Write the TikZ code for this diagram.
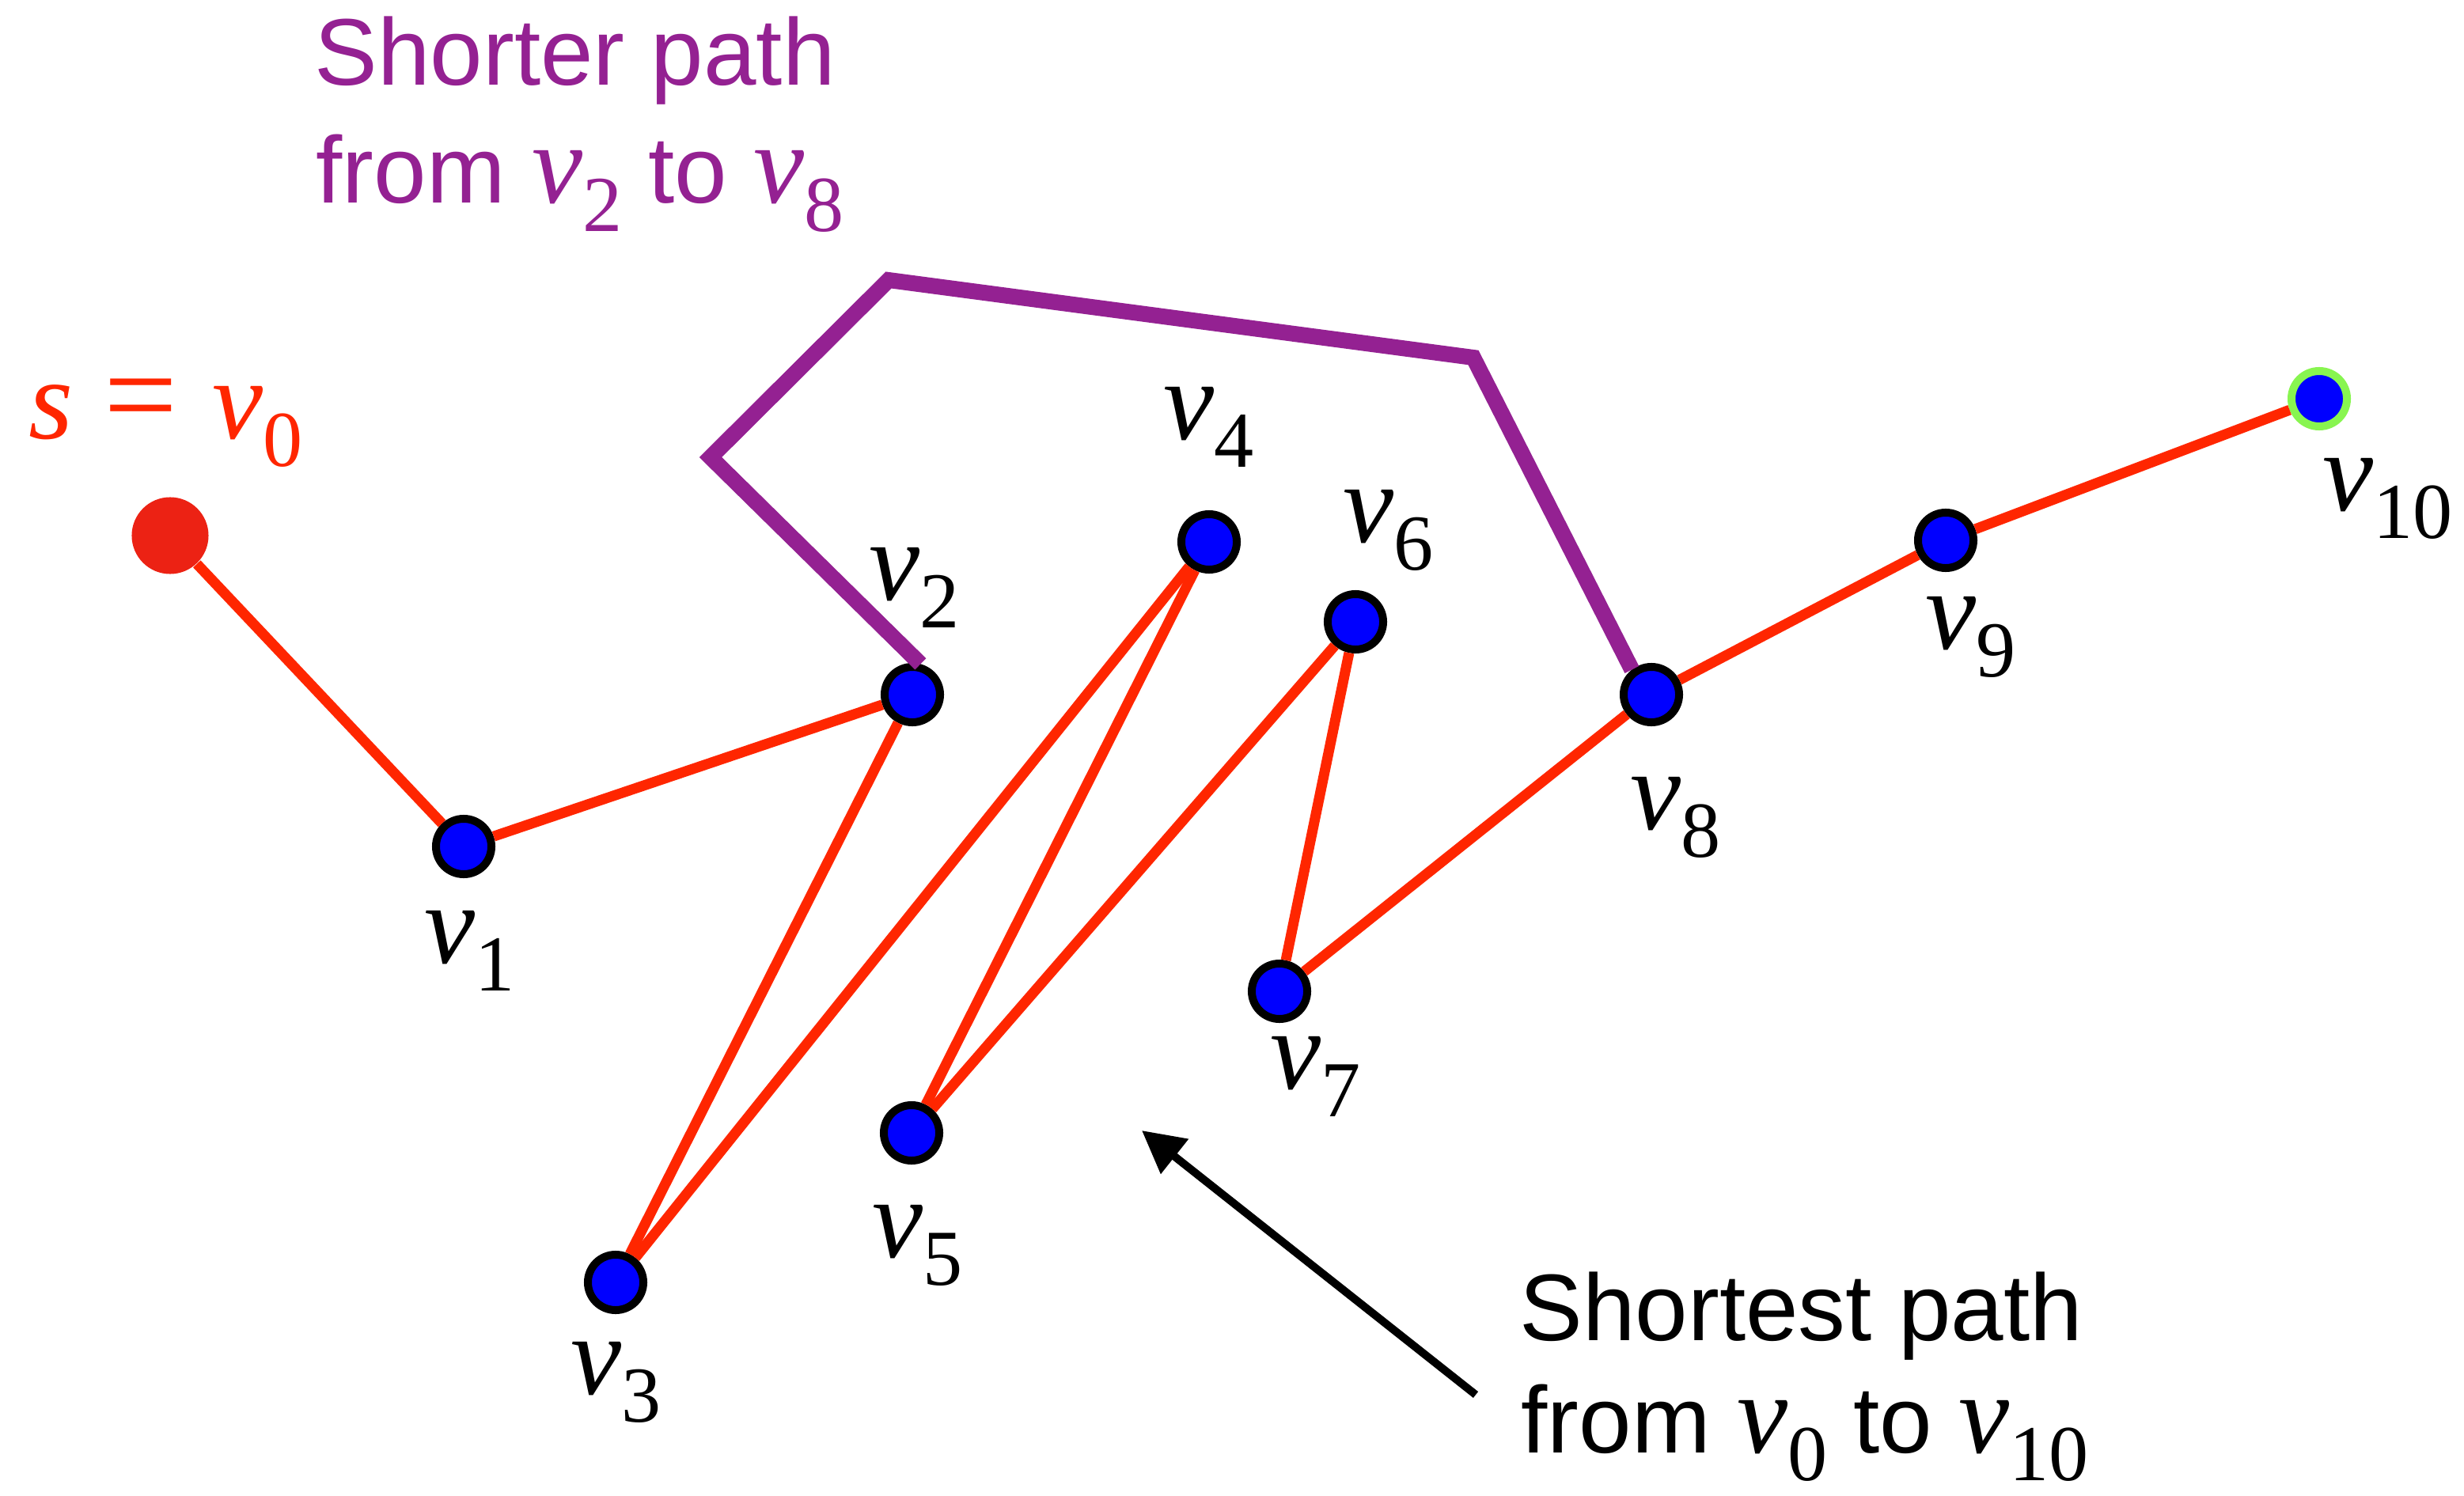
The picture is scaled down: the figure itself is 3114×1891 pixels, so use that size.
\documentclass[tikz,border=0pt]{standalone}
\usepackage{fontspec}
\setmainfont{Liberation Serif}
\setsansfont{Liberation Sans}
\usetikzlibrary{arrows.meta}
\definecolor{edgered}{HTML}{FF2600}
\definecolor{srcred}{HTML}{EC2214}
\definecolor{plum}{HTML}{942192}
\definecolor{nodeblue}{HTML}{0000FF}
\definecolor{limegreen}{HTML}{88F550}
\newcommand{\lbl}[1]{\textit{v}\raisebox{-0.35cm}{\fontsize{28.5}{28.5}\selectfont #1}}
\tikzset{
  vert/.style={circle, draw=black, fill=nodeblue, line width=0.1cm, minimum size=0.7cm, inner sep=0pt},
  srcnode/.style={circle, fill=srcred, minimum size=0.97cm, inner sep=0pt},
  goalnode/.style={circle, draw=limegreen, fill=nodeblue, line width=0.1cm, minimum size=0.7cm, inner sep=0pt},
  redge/.style={draw=edgered, line width=0.13cm},
  pedge/.style={draw=plum, line width=0.2cm, line join=miter},
  vlabel/.style={anchor=base west, inner sep=0pt, font=\fontsize{41}{41}\selectfont},
  note/.style={anchor=base west, inner sep=0pt, font=\sffamily\fontsize{34}{34}\selectfont},
  pointer/.style={draw=black, line width=0.1cm, -{Triangle[length=0.53cm, width=0.54cm]}}
}
\begin{document}
\begin{tikzpicture}[x=0.01cm, y=-0.01cm]
\useasboundingbox (0,0) rectangle (3114,1891);
% nodes
\node[srcnode] (v0) at (215,677) {};
\node[vert] (v1) at (586,1070) {};
\node[vert] (v2) at (1153,878) {};
\node[vert] (v3) at (778,1621) {};
\node[vert] (v4) at (1528,685) {};
\node[vert] (v5) at (1152,1432) {};
\node[vert] (v6) at (1713,786) {};
\node[vert] (v7) at (1617,1253) {};
\node[vert] (v8) at (2087,878) {};
\node[vert] (v9) at (2459,683) {};
\node[goalnode] (v10) at (2931,504) {};
% red path
\draw[redge] (v0) -- (v1);
\draw[redge] (v1) -- (v2);
\draw[redge] (v2) -- (v3);
\draw[redge] (v3) -- (v4);
\draw[redge] (v4) -- (v5);
\draw[redge] (v5) -- (v6);
\draw[redge] (v6) -- (v7);
\draw[redge] (v7) -- (v8);
\draw[redge] (v8) -- (v9);
\draw[redge] (v9) -- (v10);
% purple path
\coordinate (pa) at (898,578);
\coordinate (pb) at (1123,354);
\coordinate (pc) at (1862,452);
\draw[pedge] (v2.75) -- (pa) -- (pb) -- (pc) -- (v8.128);
% labels
\node[vlabel, text=edgered] (l0) at (36,554) {\textit{s}\hspace{0.27em}{\fontsize{47}{47}\selectfont =}\hspace{0.3em}\lbl{0}};
\node[vlabel] (l1) at (536,1217) {\lbl{1}};
\node[vlabel] (l2) at (1098,758) {\lbl{2}};
\node[vlabel] (l3) at (721,1762) {\lbl{3}};
\node[vlabel] (l4) at (1470,555) {\lbl{4}};
\node[vlabel] (l5) at (1102,1589) {\lbl{5}};
\node[vlabel] (l6) at (1697,685) {\lbl{6}};
\node[vlabel] (l7) at (1605,1376) {\lbl{7}};
\node[vlabel] (l8) at (2060,1048) {\lbl{8}};
\node[vlabel] (l9) at (2433,820) {\lbl{9}};
\node[vlabel] (l10) at (2935,645) {\lbl{10}};
% notes
\node[note, text=plum] (t1) at (397,108) {Shorter path};
\node[note, text=plum] (t2) at (399,257) {from {\rmfamily\fontsize{41}{41}\selectfont\lbl{2}} to {\rmfamily\fontsize{41}{41}\selectfont\lbl{8}}};
\node[note] (t3) at (1920,1694) {Shortest path};
\node[note] (t4) at (1922,1836) {from {\rmfamily\fontsize{41}{41}\selectfont\lbl{0}} to {\rmfamily\fontsize{41}{41}\selectfont\lbl{10}}};
% arrow
\coordinate (atail) at (1865,1763);
\coordinate (atip) at (1443,1429);
\draw[pointer] (atail) -- (atip);
\end{tikzpicture}
\end{document}
